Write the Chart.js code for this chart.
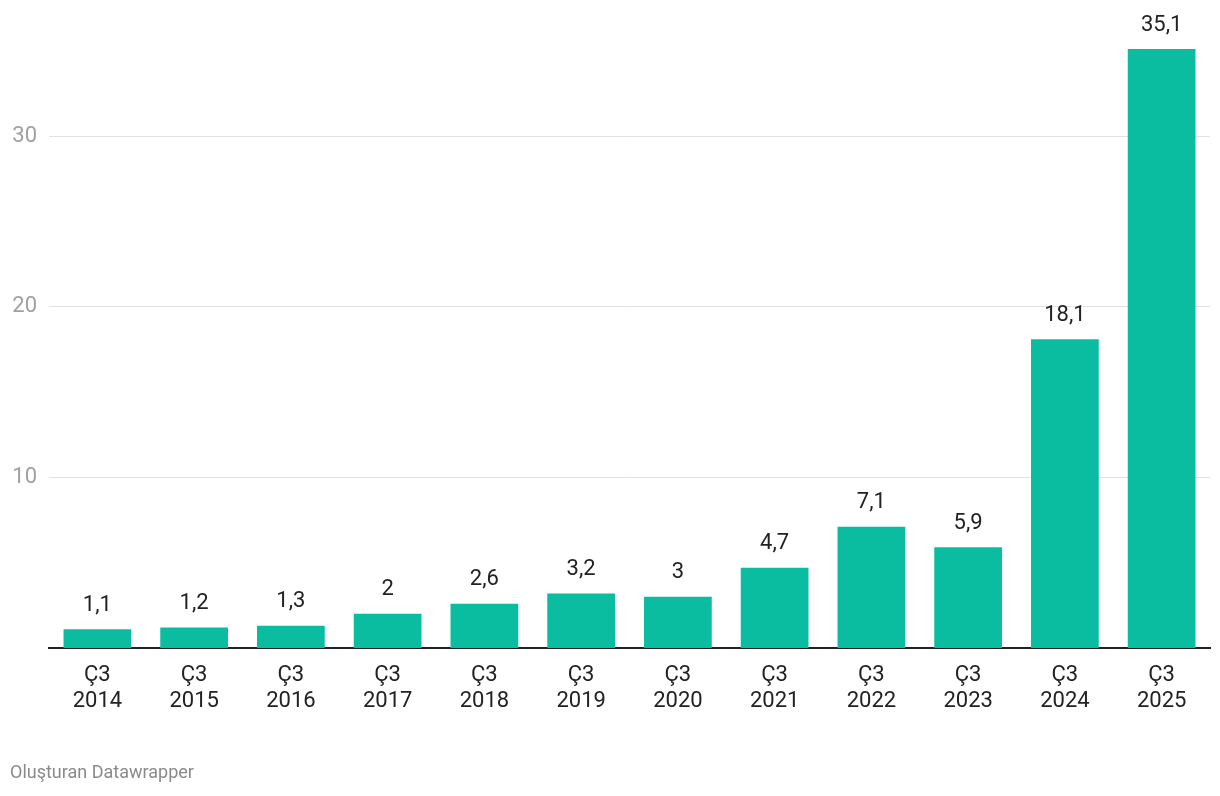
<!DOCTYPE html>
<html>
<head>
<meta charset="utf-8">
<script src="https://cdn.jsdelivr.net/npm/chart.js@4"></script>
<style>
  body { margin: 0; background: #fff; font-family: Roboto, sans-serif; }
  #wrap { position: relative; width: 1220px; height: 796px; }
  #footer { position: absolute; left: 10px; top: 761px; font-size: 18px; color: #8a8a8a; }
</style>
</head>
<body>
<div id="wrap">
  <canvas id="myChart" width="1220" height="796"></canvas>
  <div id="footer">Oluşturan Datawrapper</div>
</div>
<script>
// categories (quarter + year)
const quarters = ['Ç3','Ç3','Ç3','Ç3','Ç3','Ç3','Ç3','Ç3','Ç3','Ç3','Ç3','Ç3'];
const years = ['2014','2015','2016','2017','2018','2019','2020','2021','2022','2023','2024','2025'];
const values = [1.1, 1.2, 1.3, 2, 2.6, 3.2, 3, 4.7, 7.1, 5.9, 18.1, 35.1];
const yTicks = [10, 20, 30];

const labels = quarters.map((q, i) => [q, years[i]]);

// value labels above bars
const valueLabels = {
  id: 'valueLabels',
  afterDatasetsDraw(chart) {
    const ctx = chart.ctx;
    const meta = chart.getDatasetMeta(0);
    ctx.save();
    ctx.font = '22px Roboto';
    ctx.fillStyle = '#222';
    ctx.textAlign = 'center';
    ctx.textBaseline = 'middle';
    meta.data.forEach((bar, i) => {
      ctx.fillText(String(values[i]).replace('.', ','), bar.x, bar.y - 24);
    });
    ctx.restore();
  }
};

const ctx = document.getElementById('myChart').getContext('2d');
new Chart(ctx, {
  type: 'bar',
  data: {
    labels: labels,
    datasets: [{
      data: values,
      backgroundColor: '#0abda0',
      borderWidth: 0,
      categoryPercentage: 1,
      barPercentage: 0.70,
    }]
  },
  options: {
    responsive: false,
    animation: false,
    layout: { padding: { top: 6, right: 10, left: 0, bottom: 0 } },
    plugins: {
      legend: { display: false },
      tooltip: { enabled: false },
    },
    scales: {
      x: {
        grid: { display: false, drawTicks: false },
        border: { color: '#222', width: 2 },
        ticks: {
          color: '#222',
          font: { family: 'Roboto', size: 22 },
          padding: 14,
          maxRotation: 0,
        },
        afterFit(scale) { scale.height = 148; },
      },
      y: {
        min: 0,
        max: 36.5,
        afterBuildTicks(scale) { scale.ticks = yTicks.map(v => ({ value: v })); },
        afterFit(scale) { scale.width = 49; },
        grid: { color: '#e2e2e2', lineWidth: 1, drawTicks: false },
        border: { display: false },
        ticks: {
          color: '#a0a0a0',
          font: { family: 'Roboto', size: 22 },
          padding: 12,
        },
      },
    },
  },
  plugins: [valueLabels],
});
</script>
</body>
</html>
